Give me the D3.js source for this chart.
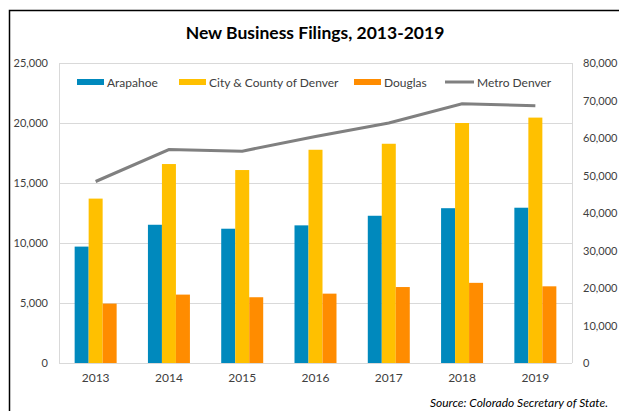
<!DOCTYPE html>
<html>
<head>
<meta charset="utf-8">
<script src="https://cdn.jsdelivr.net/npm/d3@7"></script>
<style>
  html, body { margin: 0; padding: 0; background: #fff; }
  svg text { font-family: Lato, "Open Sans", sans-serif; }
</style>
</head>
<body>
<script>
const years = ["2013", "2014", "2015", "2016", "2017", "2018", "2019"];
const arapahoe = [9700, 11520, 11190, 11470, 12270, 12900, 12940];
const denver = [13700, 16580, 16080, 17770, 18270, 20000, 20450];
const douglas = [4950, 5700, 5480, 5780, 6330, 6680, 6390];
const metro = [48400, 56900, 56500, 60400, 64000, 69100, 68600];
const leftTicks = [0, 5000, 10000, 15000, 20000, 25000];
const rightTicks = [0, 10000, 20000, 30000, 40000, 50000, 60000, 70000, 80000];

const barSeries = [
    {name: "Arapahoe", values: arapahoe, color: "#0089BD"},
    {name: "City & County of Denver", values: denver, color: "#FFC000"},
    {name: "Douglas", values: douglas, color: "#FF8C00"}
];

const width = 619, height = 411;
const plot = {left: 59, right: 572, top: 63, bottom: 363};

const svg = d3.select("body")
    .append("svg")
    .attr("width", width)
    .attr("height", height);

// chart frame (left and top edges visible)
svg.append("path")
    .attr("d", `M9.5,${height} V10.5 H${width}`)
    .attr("fill", "none")
    .attr("stroke", "#000")
    .attr("stroke-width", 1.5);

svg.append("text")
    .attr("x", 315)
    .attr("y", 39)
    .attr("text-anchor", "middle")
    .attr("font-size", 17.5)
    .attr("font-weight", "bold")
    .attr("fill", "#000")
    .text("New Business Filings, 2013-2019");

const x = d3.scaleBand()
    .domain(years)
    .range([plot.left, plot.right])
    .paddingInner(0.427)
    .paddingOuter(0.2135);

const xs = d3.scaleBand()
    .domain(barSeries.map(d => d.name))
    .range([0, x.bandwidth()]);

const yL = d3.scaleLinear().domain([0, 25000]).range([plot.bottom, plot.top]);
const yR = d3.scaleLinear().domain([0, 80000]).range([plot.bottom, plot.top]);

const fmt = d3.format(",");

// gridlines
svg.append("g")
    .selectAll("line")
    .data(leftTicks)
    .join("line")
    .attr("x1", plot.left)
    .attr("x2", plot.right)
    .attr("y1", d => Math.round(yL(d)) + 0.5)
    .attr("y2", d => Math.round(yL(d)) + 0.5)
    .attr("stroke", "#d9d9d9");

// plot area border sides
svg.append("g")
    .selectAll("line")
    .data([plot.left, plot.right])
    .join("line")
    .attr("x1", d => d + 0.5)
    .attr("x2", d => d + 0.5)
    .attr("y1", plot.top)
    .attr("y2", plot.bottom)
    .attr("stroke", "#d9d9d9");

// left axis labels
const leftAxis = svg.append("g")
    .attr("transform", `translate(${plot.left - 11},0)`)
    .call(d3.axisLeft(yL).tickValues(leftTicks).tickFormat(fmt).tickSize(0).tickPadding(0));
leftAxis.select(".domain").remove();
leftAxis.selectAll("text")
    .attr("font-size", 11)
    .attr("fill", "#404040")
    .style("font-family", "Lato, sans-serif");

// right axis labels
const rightAxis = svg.append("g")
    .attr("transform", `translate(${plot.right + 11},0)`)
    .call(d3.axisRight(yR).tickValues(rightTicks).tickFormat(fmt).tickSize(0).tickPadding(0));
rightAxis.select(".domain").remove();
rightAxis.selectAll("text")
    .attr("font-size", 11)
    .attr("fill", "#404040")
    .style("font-family", "Lato, sans-serif");

// bottom axis labels
const bottomAxis = svg.append("g")
    .attr("transform", `translate(0,${plot.bottom + 10})`)
    .call(d3.axisBottom(x).tickSize(0).tickPadding(0));
bottomAxis.select(".domain").remove();
bottomAxis.selectAll("text")
    .attr("font-size", 12)
    .attr("fill", "#404040")
    .style("font-family", "Lato, sans-serif");

// bars
svg.append("g")
    .selectAll("g")
    .data(barSeries)
    .join("g")
    .attr("fill", d => d.color)
    .selectAll("rect")
    .data(s => s.values.map((v, i) => ({name: s.name, year: years[i], value: v})))
    .join("rect")
    .attr("x", d => x(d.year) + xs(d.name))
    .attr("width", xs.bandwidth())
    .attr("y", d => yL(d.value))
    .attr("height", d => yL(0) - yL(d.value));

// metro line
const line = d3.line()
    .x((d, i) => x(years[i]) + x.bandwidth() / 2)
    .y(d => yR(d));

svg.append("path")
    .datum(metro)
    .attr("d", line)
    .attr("fill", "none")
    .attr("stroke", "#808080")
    .attr("stroke-width", 3);

// legend
const legendItems = [
    {name: "Arapahoe", color: "#0089BD", type: "rect", x: 77},
    {name: "City & County of Denver", color: "#FFC000", type: "rect", x: 179},
    {name: "Douglas", color: "#FF8C00", type: "rect", x: 354},
    {name: "Metro Denver", color: "#808080", type: "line", x: 445}
];

const legend = svg.append("g")
    .selectAll("g")
    .data(legendItems)
    .join("g")
    .attr("transform", d => `translate(${d.x},82)`);

legend.filter(d => d.type === "rect")
    .append("rect")
    .attr("x", 0)
    .attr("y", -3)
    .attr("width", 27)
    .attr("height", 6)
    .attr("fill", d => d.color);

legend.filter(d => d.type === "line")
    .append("line")
    .attr("x1", 0)
    .attr("x2", 29)
    .attr("stroke", d => d.color)
    .attr("stroke-width", 3);

legend.append("text")
    .attr("x", d => d.type === "line" ? 32 : 30)
    .attr("y", 4.5)
    .attr("font-size", 12)
    .attr("fill", "#404040")
    .text(d => d.name);

svg.append("text")
    .attr("x", 608)
    .attr("y", 407)
    .attr("text-anchor", "end")
    .attr("font-size", 12)
    .attr("font-style", "italic")
    .attr("fill", "#000")
    .text("Source: Colorado Secretary of State.");
</script>
</body>
</html>
